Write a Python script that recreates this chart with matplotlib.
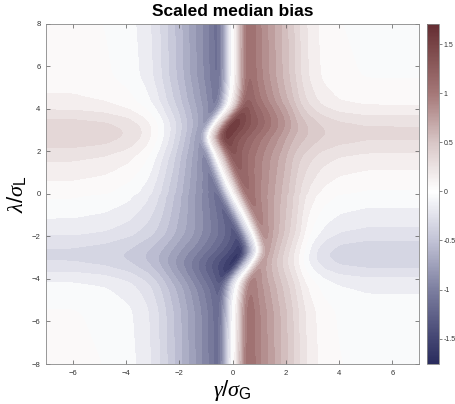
import numpy as np
import matplotlib
matplotlib.use("Agg")
import matplotlib.pyplot as plt
from matplotlib.colors import LinearSegmentedColormap, Normalize

plt.rcParams["font.family"] = ["Liberation Sans", "DejaVu Sans"]
plt.rcParams["mathtext.fontset"] = "custom"
plt.rcParams["mathtext.rm"] = "Liberation Sans"
plt.rcParams["mathtext.it"] = "Liberation Serif:italic"
plt.rcParams["mathtext.bf"] = "Liberation Sans:bold"

# ─── values ───
# zero line (white ridge) position x at given y
ridge_y = [-8.0, -5.0, -4.1, -2.7, -2.0, 0.0, 1.0, 2.0, 2.7, 4.1, 5.0, 8.0]
ridge_x = [0.02, 0.04, 0.12, 0.92, 0.76, 0.0, -0.30, -0.60, -0.90, -0.06, 0.02, 0.02]

# far-field dipole profile, distance from the zero line -> value
blue_d = [0, 0.10, 0.20, 0.30, 0.40, 0.50, 0.61, 0.76, 1.01, 1.26, 1.51, 1.77, 2.01, 2.30, 2.57, 2.86, 3.23, 3.90, 4.8, 6.0, 16]
blue_v = [0, -0.15, -0.40, -0.68, -0.93, -1.13, -1.22, -1.12, -1.00, -0.90, -0.80, -0.70, -0.60, -0.50, -0.40, -0.30, -0.20, -0.10, -0.04, -0.01, 0]
red_d = [0, 0.10, 0.20, 0.30, 0.40, 0.50, 0.60, 0.89, 1.13, 1.39, 1.64, 1.89, 2.14, 2.36, 2.57, 2.88, 3.36, 4.0, 5.0, 16]
red_v = [0, 0.15, 0.40, 0.66, 0.90, 1.08, 1.16, 1.00, 0.90, 0.80, 0.70, 0.60, 0.50, 0.40, 0.30, 0.20, 0.10, 0.04, 0.01, 0]

# horizontal band (odd in y): |y| -> value for y > 0
band_y = [0.0, 0.88, 1.80, 2.32, 2.60, 2.85, 3.10, 3.40, 3.80, 4.30, 5.5, 8.0]
band_v = [0.0, 0.10, 0.20, 0.30, 0.345, 0.36, 0.35, 0.30, 0.20, 0.10, 0.02, 0.0]

# extra strength of the dipole next to the bends
bend_y = 3.3
bend_gain = 0.17
center_x = 0.02

xticks = [-6, -4, -2, 0, 2, 4, 6]
yticks = [-8, -6, -4, -2, 0, 2, 4, 6, 8]
cbar_ticks = [-1.5, -1, -0.5, 0, 0.5, 1, 1.5]
vmin, vmax = -1.76, 1.71


def smooth(a, sigma, axis=0):
    n = int(3 * sigma) + 1
    k = np.exp(-0.5 * (np.arange(-n, n + 1) / sigma) ** 2)
    k /= k.sum()
    pad = [(0, 0)] * a.ndim
    pad[axis] = (n, n)
    a = np.pad(a, pad, mode="edge")
    return np.apply_along_axis(lambda v: np.convolve(v, k, mode="valid"), axis, a)


# ─── build the field ───
x = np.linspace(-7, 7, 561)
y = np.linspace(-8, 8, 641)
ridge = smooth(np.interp(y, ridge_y, ridge_x), 8)
band = smooth(np.interp(np.abs(y), band_y, band_v), 8)

d = np.linspace(0, 16, 3201)
blue_tab = smooth(np.interp(d, blue_d, blue_v), 12)
red_tab = smooth(np.interp(d, red_d, red_v), 12)
blue_tab -= blue_tab[0]
red_tab -= red_tab[0]

X, Y = np.meshgrid(x, y)
R = ridge[:, None]
h = np.exp(-((X - center_x) / 2.5) ** 2)
U = X - center_x - (R - center_x) * h
P = np.where(U < 0, np.interp(-U, d, blue_tab), np.interp(U, d, red_tab))
gp = 1 + bend_gain * np.exp(-(Y - bend_y) ** 2 / (2 * 0.6 ** 2))
gn = 1 + bend_gain * np.exp(-(Y + bend_y) ** 2 / (2 * 0.6 ** 2))
Z = P * np.where(U > 0, gp, gn) + np.sign(Y) * band[:, None]
Z = smooth(smooth(Z, 3, 0), 3, 1)

cmap = LinearSegmentedColormap.from_list("bias", [
    (0.0, (42/255, 44/255, 94/255)),
    ((-1.5 - vmin) / (vmax - vmin), (68/255, 70/255, 115/255)),
    ((-1.0 - vmin) / (vmax - vmin), (125/255, 127/255, 160/255)),
    ((-0.5 - vmin) / (vmax - vmin), (194/255, 195/255, 214/255)),
    ((0.0 - vmin) / (vmax - vmin), (1, 1, 1)),
    ((0.5 - vmin) / (vmax - vmin), (216/255, 198/255, 198/255)),
    ((1.0 - vmin) / (vmax - vmin), (165/255, 120/255, 120/255)),
    ((1.5 - vmin) / (vmax - vmin), (120/255, 68/255, 70/255)),
    (1.0, (100/255, 44/255, 50/255)),
])
norm = Normalize(vmin=vmin, vmax=vmax)

fig = plt.figure(figsize=(4.56, 4.04), dpi=100)
ax = fig.add_axes([0.101, 0.099, 0.818, 0.842])
cax = fig.add_axes([0.936, 0.099, 0.027, 0.842])

levels = np.arange(-1.8, 1.81, 0.1)
ax.contourf(X, Y, Z, levels=levels, cmap=cmap, norm=norm)

ax.set_xlim(-7, 7)
ax.set_ylim(-8, 8)
ax.set_xticks(xticks)
ax.set_yticks(yticks)
ax.tick_params(direction="in", length=3, width=0.5, color="#555555",
               labelsize=5.5, labelcolor="#333333", top=True, right=True, pad=4)
for s in ax.spines.values():
    s.set_color("#888888")
    s.set_linewidth(0.6)
ax.set_title("Scaled median bias", fontsize=12.5, fontweight="bold", pad=6)
ax.set_xlabel(r"$\gamma/\sigma_{\mathrm{G}}$", fontsize=16, labelpad=1)
ax.set_ylabel(r"$\lambda/\sigma_{\mathrm{L}}$", fontsize=16, labelpad=3)

sm = matplotlib.cm.ScalarMappable(norm=norm, cmap=cmap)
cb = fig.colorbar(sm, cax=cax, ticks=cbar_ticks)
cb.ax.set_yticklabels(["-1.5", "-1", "-0.5", "0", "0.5", "1", "1.5"])
cb.ax.tick_params(direction="out", length=2, width=0.5, color="#555555",
                  labelsize=5, labelcolor="#333333", pad=1)
cb.outline.set_edgecolor("#888888")
cb.outline.set_linewidth(0.6)

fig.savefig("out.png", dpi=100)
